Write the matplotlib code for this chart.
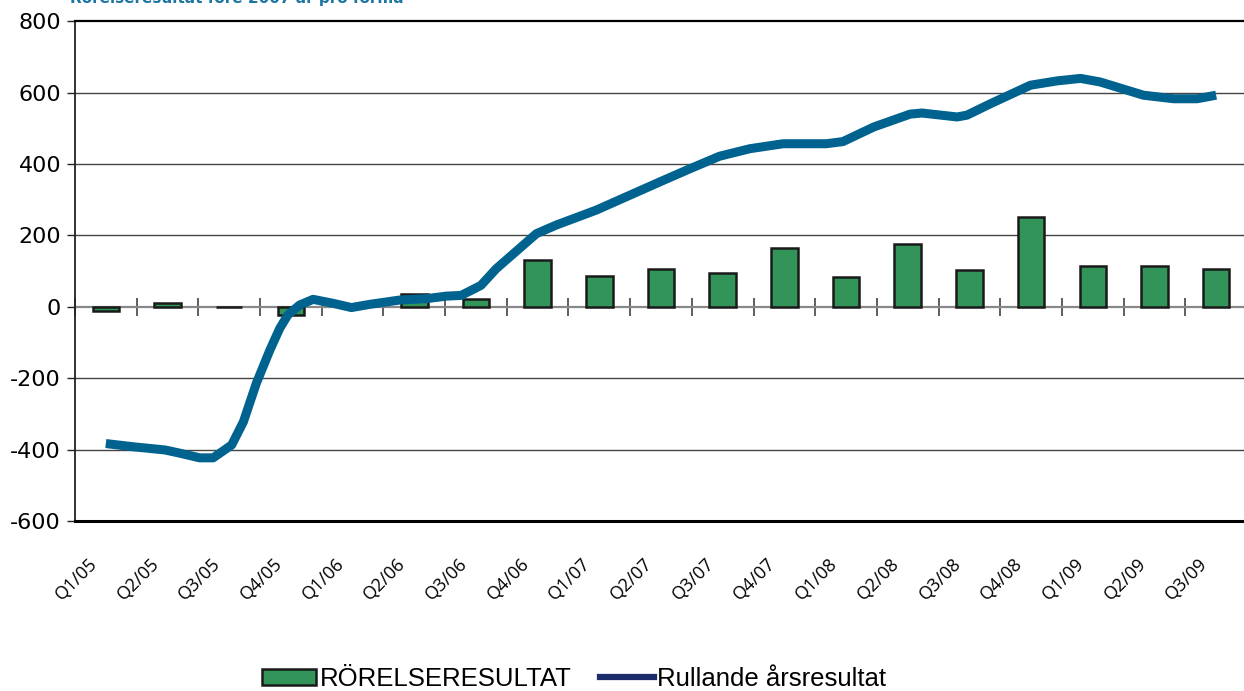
import matplotlib
matplotlib.use("Agg")
import matplotlib.pyplot as plt
from matplotlib.patches import Patch
from matplotlib.lines import Line2D

categories = ["Q1/05", "Q2/05", "Q3/05", "Q4/05", "Q1/06", "Q2/06", "Q3/06", "Q4/06",
              "Q1/07", "Q2/07", "Q3/07", "Q4/07", "Q1/08", "Q2/08", "Q3/08", "Q4/08",
              "Q1/09", "Q2/09", "Q3/09"]
rorelseresultat = [-12, 11, 0, -23, 0, 35, 23, 131, 86, 107, 96, 165, 84, 177, 103, 252, 114, 114, 106]

# Rolling annual result (x in quarter positions)
rull_x = [0.0, 0.44, 0.96, 1.20, 1.52, 1.74, 2.04, 2.23, 2.44, 2.66, 2.82, 2.95, 3.14, 3.36,
          3.68, 3.98, 4.28, 4.76, 5.20, 5.52, 5.76, 6.08, 6.33, 6.98, 7.30, 7.95, 8.98,
          9.47, 9.95, 10.44, 10.98, 11.68, 11.95, 12.45, 13.04, 13.23, 13.80, 13.96, 14.34,
          14.99, 15.42, 15.80, 16.12, 16.82, 17.31, 17.69, 18.0]
rull_y = [-383, -392, -401, -410, -423, -423, -387, -322, -214, -121, -60, -23, 5, 21,
          10, -2, 7, 19, 23, 30, 32, 60, 107, 205, 229, 271, 350,
          387, 422, 443, 457, 457, 463, 504, 540, 543, 532, 537, 569,
          621, 633, 640, 630, 593, 583, 583, 593]

yticks = [-600, -400, -200, 0, 200, 400, 600, 800]

W, H = 1244, 691
fig = plt.figure(figsize=(W / 100, H / 100), dpi=100)
ax = fig.add_axes([75 / W, 1 - 521 / H, 1172 / W, 499.7 / H])

x = list(range(len(categories)))
ax.bar(x, rorelseresultat, width=0.43, color="#339459", edgecolor="#1a1a1a",
       linewidth=1.8, zorder=3)
ax.plot(rull_x, rull_y, color="#00628f", lw=6.5, zorder=4,
        solid_joinstyle="round", solid_capstyle="butt")

ax.set_xlim(-0.5, len(categories) - 0.5)
ax.set_ylim(-600, 800)
ax.set_yticks(yticks)
ax.set_yticklabels([str(v) for v in yticks], fontsize=16, family="DejaVu Sans")
ax.tick_params(axis="y", direction="out", length=6, width=1, pad=4, color="#222222")

for v in yticks:
    if v in (-600, 0, 800):
        continue
    ax.axhline(v, color="#444444", lw=1.0, zorder=1)

ax.set_xticks([i - 0.08 for i in x])
ax.set_xticklabels(categories, rotation=45, ha="right", fontsize=13, family="Open Sans")
ax.tick_params(axis="x", length=0, pad=24)

ax.spines["right"].set_visible(False)
ax.spines["top"].set_linewidth(1.6)
ax.spines["bottom"].set_linewidth(2.2)
ax.spines["left"].set_linewidth(1.3)
ax.spines["left"].set_color("#222222")

# category axis crossing at zero
sec = ax.secondary_xaxis(600 / 1400)
sec.set_xticks([i - 0.5 for i in range(len(categories) + 1)])
sec.set_xticklabels([])
sec.tick_params(direction="inout", length=13, width=1.1, color="#333333")
sec.spines["bottom"].set_color("#888888")
sec.spines["bottom"].set_linewidth(1.6)
sec.spines["bottom"].set_zorder(2)

fig.text(70 / W, 1 - 3 / H, "Rörelseresultat före 2007 är pro forma", color="#1c75a3",
         fontsize=11, weight="bold", va="baseline", ha="left", family="DejaVu Sans")

handles = [Patch(facecolor="#339459", edgecolor="#1a1a1a", linewidth=1.8),
           Line2D([], [], color="#1b2b6c", lw=4.5)]
fig.legend(handles, ["RÖRELSERESULTAT", "Rullande årsresultat"], loc="center",
           bbox_to_anchor=(574 / W, 1 - 679 / H), ncol=2, frameon=False,
           prop={"family": "Liberation Sans", "size": 18.5}, handlelength=2.1,
           handleheight=0.6, handletextpad=0.15, columnspacing=1.1)

fig.savefig("out.png", dpi=100)
